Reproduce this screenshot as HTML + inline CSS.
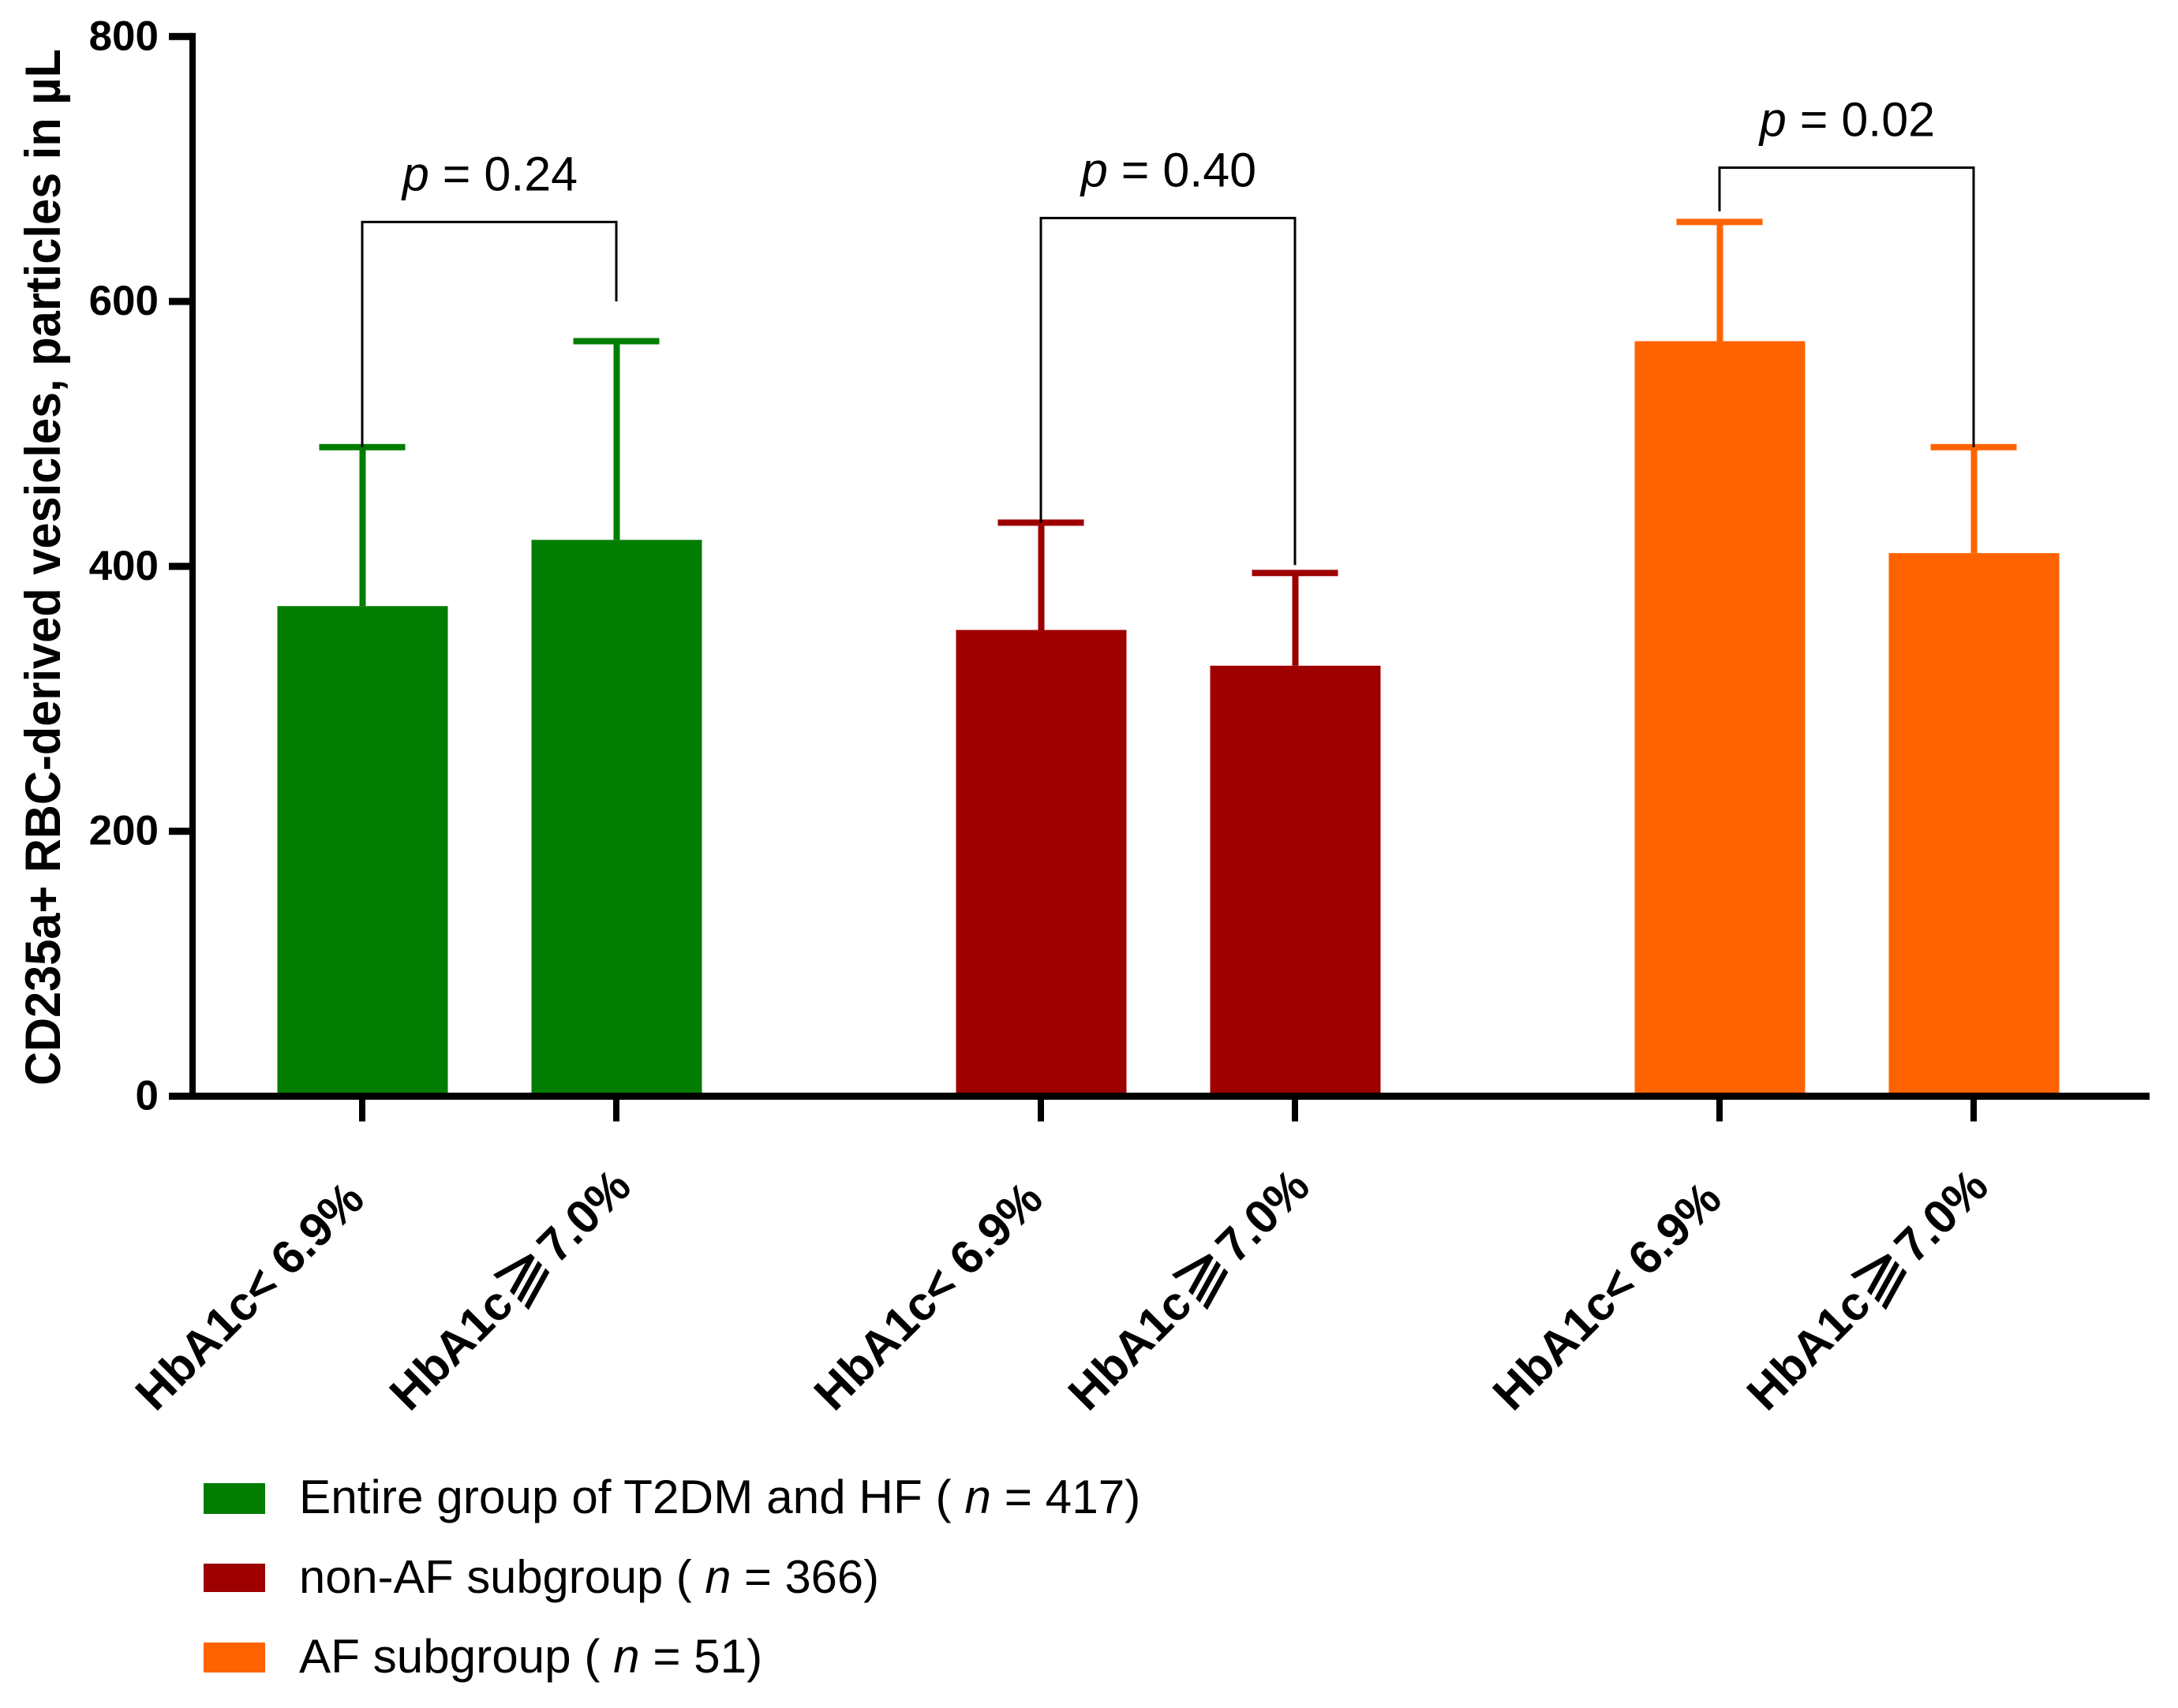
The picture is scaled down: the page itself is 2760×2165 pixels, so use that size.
<!DOCTYPE html>
<html lang="en">
<head>
<meta charset="utf-8">
<title>CD235a+ RBC-derived vesicles by HbA1c</title>
<style>
html,body{margin:0;padding:0;background:#fff;width:2760px;height:2165px;overflow:hidden}
svg{display:block}
text{font-family:"Liberation Sans",Arial,"DejaVu Sans",sans-serif;fill:#000}
.tick{font-weight:700;font-size:53px}
.cat{font-weight:700;font-size:60px}
.pval{font-size:61px}
.it{font-style:italic}
.rel{font-weight:400;font-size:84px}
</style>
</head>
<body>
<svg id="chart" xmlns="http://www.w3.org/2000/svg" width="2760" height="2165" viewBox="0 0 2760 2165">
  <rect x="0" y="0" width="2760" height="2165" fill="#fff"/>
  <g id="marks"></g>
  <g id="brackets"></g>
  <g id="axes"></g>
  <text transform="translate(76 1376) rotate(-90)" font-size="63" font-weight="700" textLength="1314" lengthAdjust="spacingAndGlyphs">CD235a+ RBC-derived vesicles, particles in µL</text>

  <g>
    <rect x="258" y="1880" width="78" height="39" fill="#027d02"/>
    <text font-size="60.3" x="379" y="1918">Entire group of T2DM and HF ( <tspan class="it">n</tspan> = 417)</text>
    <rect x="258" y="1982" width="78" height="36" fill="#9e0000"/>
    <text font-size="59.7" x="379" y="2019">non-AF subgroup ( <tspan class="it">n</tspan> = 366)</text>
    <rect x="258" y="2082" width="78" height="38" fill="#ff6300"/>
    <text font-size="60.2" x="379" y="2120">AF subgroup ( <tspan class="it">n</tspan> = 51)</text>
  </g>
</svg>
<script>
var categories = ['HbA1c< 6.9%', 'HbA1c\u2AFA7.0%', 'HbA1c< 6.9%', 'HbA1c\u2AFA7.0%', 'HbA1c< 6.9%', 'HbA1c\u2AFA7.0%'];
var means = [370, 420, 352, 325, 570, 410];
var errorTops = [490, 570, 433, 395, 660, 490];
var barGroups = ['entire', 'entire', 'non-af', 'non-af', 'af', 'af'];
var yTicks = [0, 200, 400, 600, 800];
var bracketTops = [660, 663, 701];
var bracketLeftEnds = [490, 433, 668];
var bracketRightEnds = [600, 401, 490];
var pValues = ['0.24', '0.40', '0.02'];

var groupColors = {'entire': '#027d02', 'non-af': '#9e0000', 'af': '#ff6300'};
var NS = 'http://www.w3.org/2000/svg';
var REL = '\u2AFA';

function yScale(v) { return 1389.5 - v * 1.679; }
function xScale(i) { return 459 + 322 * (i % 2) + 860 * Math.floor(i / 2); }

function make(tag, parent) {
  var el = document.createElementNS(NS, tag);
  parent.appendChild(el);
  return el;
}
function setAll(el, attrs) {
  for (var k in attrs) { el.setAttribute(k, attrs[k]); }
}

var marks = document.getElementById('marks');
var brackets = document.getElementById('brackets');
var axes = document.getElementById('axes');

means.forEach(function (m, i) {
  var cx = xScale(i);
  var color = groupColors[barGroups[i]];
  var bar = make('rect', marks);
  
  
  setAll(bar, {x: cx - 107.5, y: yScale(m), width: 216, height: yScale(0) - yScale(m), fill: color});

  var stem = make('rect', marks);
  
  
  setAll(stem, {x: cx - 3.5, y: yScale(errorTops[i]), width: 8, height: yScale(m) - yScale(errorTops[i]), fill: color});

  var cap = make('rect', marks);
  
  
  setAll(cap, {x: cx - 54.5, y: yScale(errorTops[i]) - 4, width: 109, height: 8, fill: color});
});

pValues.forEach(function (p, g) {
  var xl = xScale(g * 2);
  var xr = xScale(g * 2 + 1);
  var top = yScale(bracketTops[g]);
  var path = make('path', brackets);
  
  
  setAll(path, {d: 'M' + xl + ' ' + yScale(bracketLeftEnds[g]) + 'V' + top + 'H' + xr + 'V' + yScale(bracketRightEnds[g]), fill: 'none', stroke: '#000', 'stroke-width': 3});

  var t = make('text', brackets);
  
  
  setAll(t, {x: (xl + xr) / 2 + 1, y: top - 40, 'text-anchor': 'middle', 'class': 'pval'});
  var ti = make('tspan', t);
  ti.setAttribute('class', 'it');
  ti.textContent = 'p';
  var tv = make('tspan', t);
  tv.textContent = ' = ' + p;
});

var yLine = make('rect', axes);


setAll(yLine, {x: 240, y: yScale(800) - 4.5, width: 8, height: yScale(0) - yScale(800) + 9, fill: '#000'});

var xLine = make('rect', axes);


setAll(xLine, {x: 214, y: yScale(0) - 4.5, width: 2510, height: 9, fill: '#000'});

yTicks.forEach(function (v) {
  var tick = make('rect', axes);
  
  
  setAll(tick, {x: 214, y: yScale(v) - 4.5, width: 30, height: 9, fill: '#000'});

  var label = make('text', axes);
  
  
  setAll(label, {x: 201, y: yScale(v) + 17, 'text-anchor': 'end', 'class': 'tick'});
  label.textContent = v;
});

categories.forEach(function (c, i) {
  var cx = xScale(i);
  var tick = make('rect', axes);
  
  
  setAll(tick, {x: cx - 4, y: yScale(0), width: 8, height: 32, fill: '#000'});

  var label = make('text', axes);
  
  
  var lx = cx - 262;
  var ly = 1791;
  setAll(label, {x: lx, y: ly, transform: 'rotate(-45 ' + lx + ' ' + ly + ')', 'class': 'cat'});
  var parts = c.split(REL);
  var head = make('tspan', label);
  head.textContent = parts[0];
  if (parts.length > 1) {
    var rel = make('tspan', label);
    rel.setAttribute('class', 'rel');
    rel.textContent = REL;
    var tail = make('tspan', label);
    tail.setAttribute('dx', '4');
    tail.textContent = parts[1];
  }
});
</script>
</body>
</html>
